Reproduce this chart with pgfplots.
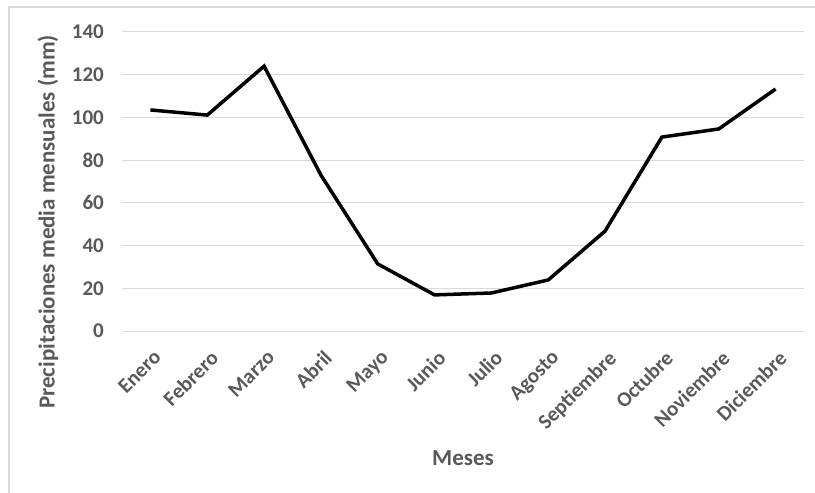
\documentclass[border=0pt]{standalone}
\usepackage{pgfplots}
\pgfplotsset{compat=1.18}
\usepackage{fontspec}
\setmainfont{Carlito}
\definecolor{txtgray}{RGB}{89,89,89}
\definecolor{gridgray}{RGB}{217,217,217}
\definecolor{framegray}{RGB}{217,217,217}
\begin{document}
\begin{tikzpicture}[x=1pt,y=1pt]
\useasboundingbox (0,0) rectangle (815,493);
% chart frame (left and top edges)
\draw[framegray, line width=1.5pt] (9,0) -- (9,486) -- (815,486);
\begin{axis}[
  at={(122pt,162pt)}, anchor=south west,
  scale only axis, width=682pt, height=299pt,
  xmin=-0.5, xmax=11.5, ymin=0, ymax=140,
  ytick={0,20,...,140},
  xtick={0,...,11},
  xticklabels={Enero,Febrero,Marzo,Abril,Mayo,Junio,Julio,Agosto,Septiembre,Octubre,Noviembre,Diciembre},
  axis line style={draw=none},
  major tick length=0pt,
  ymajorgrids, grid style={gridgray, line width=1pt},
  /pgf/number format/assume math mode=true,
  tick label style={font=\fontsize{21}{23}\selectfont\bfseries, text=txtgray},
  x tick label style={xshift=2pt, yshift=-18pt, rotate=45, anchor=north east, inner sep=0pt},
  y tick label style={inner sep=0pt, xshift=-18pt},
  xlabel={Meses},
  ylabel={Precipitaciones media mensuales (mm)},
  label style={font=\fontsize{23}{25}\selectfont\bfseries, text=txtgray},
  xlabel style={at={(axis description cs:0.5,-0.425)}, anchor=center},
  ylabel style={at={(axis description cs:-0.1085,0.365)}, anchor=center},
  clip=false,
]
\addplot[black, line width=3.5pt, line join=miter] coordinates {
  (0,103.5) (1,101.1) (2,124.0) (3,73.0) (4,31.4) (5,16.9)
  (6,17.8) (7,23.9) (8,46.8) (9,90.8) (10,94.6) (11,113.3)
};
\end{axis}
\end{tikzpicture}
\end{document}
